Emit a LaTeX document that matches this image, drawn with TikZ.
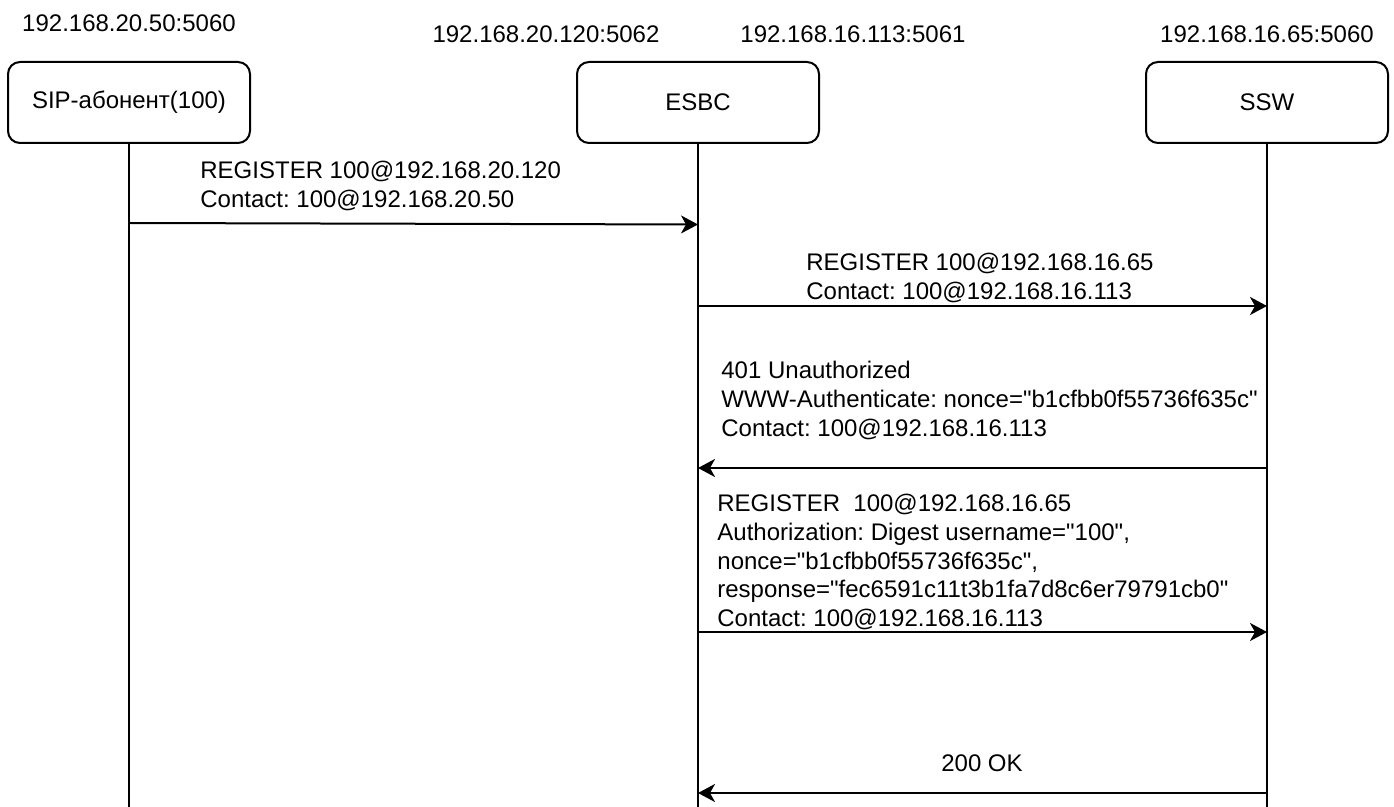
\documentclass[tikz,border=0pt]{standalone}
\usepackage{fontspec}
\setmainfont{Liberation Sans}
\usetikzlibrary{arrows.meta}
\frenchspacing
\begin{document}
\begin{tikzpicture}[x=0.5pt,y=-0.5pt,
  every node/.style={font=\fontsize{12}{14.35}\selectfont\frenchspacing, inner sep=0pt},
  actor/.style={draw, line width=1pt, rounded corners=6pt, minimum width=121pt, minimum height=40.5pt},
  life/.style={line width=1pt},
  msg/.style={line width=1pt, -{Stealth[length=8.5pt,width=9pt,inset=2.5pt]}},
  lbl/.style={anchor=base west, align=left},
  addr/.style={anchor=base}]
\useasboundingbox (0,0) rectangle (1394,807);

% actors
\node[actor] (sip) at (129,102.5) {SIP-абонент(100)};
\node[actor] (esbc) at (698,102.5) {ESBC};
\node[actor] (ssw) at (1267,102.5) {SSW};

% addresses
\node[addr] (ipsip) at (129,31.6) {192.168.20.50:5060};
\node[addr] (ipesbcA) at (546,42.6) {192.168.20.120:5062};
\node[addr] (ipesbcB) at (853,42.6) {192.168.16.113:5061};
\node[addr] (ipssw) at (1267,42.6) {192.168.16.65:5060};

% lifelines
\coordinate (sipEnd) at (129,807);
\coordinate (esbcEnd) at (698,807);
\coordinate (sswEnd) at (1267,807);
\draw[life] (sip.south) -- (sipEnd);
\draw[life] (esbc.south) -- (esbcEnd);
\draw[life] (ssw.south) -- (sswEnd);

% message points
\coordinate (m1s) at (129,223);
\coordinate (m1e) at (698,224.5);
\coordinate (m2s) at (698,306);
\coordinate (m2e) at (1267,306);
\coordinate (m3s) at (1267,468);
\coordinate (m3e) at (698,468);
\coordinate (m4s) at (698,632);
\coordinate (m4e) at (1267,632);
\coordinate (m5s) at (1267,793);
\coordinate (m5e) at (698,793);

\draw[msg] (m1s) -- (m1e);
\draw[msg] (m2s) -- (m2e);
\draw[msg] (m3s) -- (m3e);
\draw[msg] (m4s) -- (m4e);
\draw[msg] (m5s) -- (m5e);

% labels (base = baseline of last line)
\node[lbl] (l1) at (200,207.6) {REGISTER 100@192.168.20.120\\Contact: 100@192.168.20.50};
\node[lbl] (l2) at (806,299.6) {REGISTER 100@192.168.16.65\\Contact: 100@192.168.16.113};
\node[lbl] (l3) at (721,436.3) {401 Unauthorized\\WWW-Authenticate: nonce=\textquotedbl b1cfbb0f55736f635c\textquotedbl\\Contact: 100@192.168.16.113};
\node[lbl] (l4) at (717,626.6) {REGISTER\ \ 100@192.168.16.65\\Authorization: Digest username=\textquotedbl 100\textquotedbl,\\nonce=\textquotedbl b1cfbb0f55736f635c\textquotedbl,\\response=\textquotedbl fec6591c11t3b1fa7d8c6er79791cb0\textquotedbl\\Contact: 100@192.168.16.113};
\node[addr] (l5) at (982,771.6) {200 OK};
\end{tikzpicture}
\end{document}
